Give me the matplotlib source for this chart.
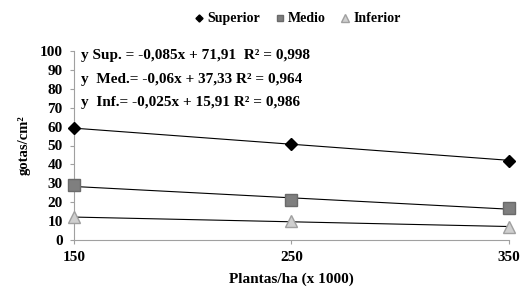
import matplotlib
matplotlib.use("Agg")
import matplotlib.pyplot as plt
import numpy as np
from matplotlib.lines import Line2D

plantas = [150, 250, 350]
superior = [59, 51, 42]
medio = [29, 21, 17]
inferior = [12, 10, 7]
eq_labels = ["y Sup. = -0,085x + 71,91  R² = 0,998",
             "y  Med.= -0,06x + 37,33 R² = 0,964",
             "y  Inf.= -0,025x + 15,91 R² = 0,986"]

plt.rcParams['font.family'] = ['Liberation Serif', 'DejaVu Serif']
plt.rcParams['font.weight'] = 'bold'

fig = plt.figure(figsize=(5.21, 2.91), dpi=100)
ax = fig.add_axes([0.142, 0.175, 0.835, 0.65])

styles = [
    dict(marker='D', color='black', mfc='black', mec='black', ms=6),
    dict(marker='s', color='black', mfc='#7f7f7f', mec='#6a6a6a', ms=8),
    dict(marker='^', color='black', mfc='#cfcfcf', mec='#a0a0a0', ms=9),
]
names = ["Superior", "Medio", "Inferior"]
x = np.array(plantas)
for data, st in zip([superior, medio, inferior], styles):
    coef = np.polyfit(x, data, 1)
    ax.plot(x, np.polyval(coef, x), color='black', lw=0.8, zorder=2)
    ax.plot(x, data, ls='none', marker=st['marker'], mfc=st['mfc'], mec=st['mec'],
            ms=st['ms'], zorder=3, clip_on=False)

ax.set_xlim(150, 350)
ax.set_ylim(0, 100)
ax.set_xticks(plantas)
ax.set_yticks(range(0, 101, 10))
for s in ['top', 'right']:
    ax.spines[s].set_visible(False)
for s in ['left', 'bottom']:
    ax.spines[s].set_color('#a0a0a0')
    ax.spines[s].set_linewidth(0.8)
ax.tick_params(axis='y', colors='#a0a0a0', labelcolor='black', labelsize=11, length=3, width=0.8, pad=5)
ax.tick_params(axis='x', colors='#a0a0a0', labelcolor='black', labelsize=11, length=3, width=0.8, pad=5)
for lab in ax.get_xticklabels() + ax.get_yticklabels():
    lab.set_fontweight('bold')

ax.set_xlabel("Plantas/ha (x 1000)", fontsize=11, fontweight='bold', labelpad=6)
ax.set_ylabel("gotas/cm²", fontsize=10.5, fontweight='bold', labelpad=7)

for i, t in enumerate(eq_labels):
    ax.text(0.017, 0.975 - i * 0.125, t, transform=ax.transAxes, fontsize=11,
            fontweight='bold', va='center', ha='left')

handles = [Line2D([], [], ls='none', marker=st['marker'], mfc=st['mfc'], mec=st['mec'],
                  ms=st['ms'] * 0.6) for st in styles]
fig.legend(handles, names, loc='center', bbox_to_anchor=(0.568, 0.935), ncol=3,
           frameon=False, handletextpad=0.0, columnspacing=0.8, handlelength=1.2,
           prop={'weight': 'bold', 'size': 10})

fig.savefig("out.png", dpi=100)
